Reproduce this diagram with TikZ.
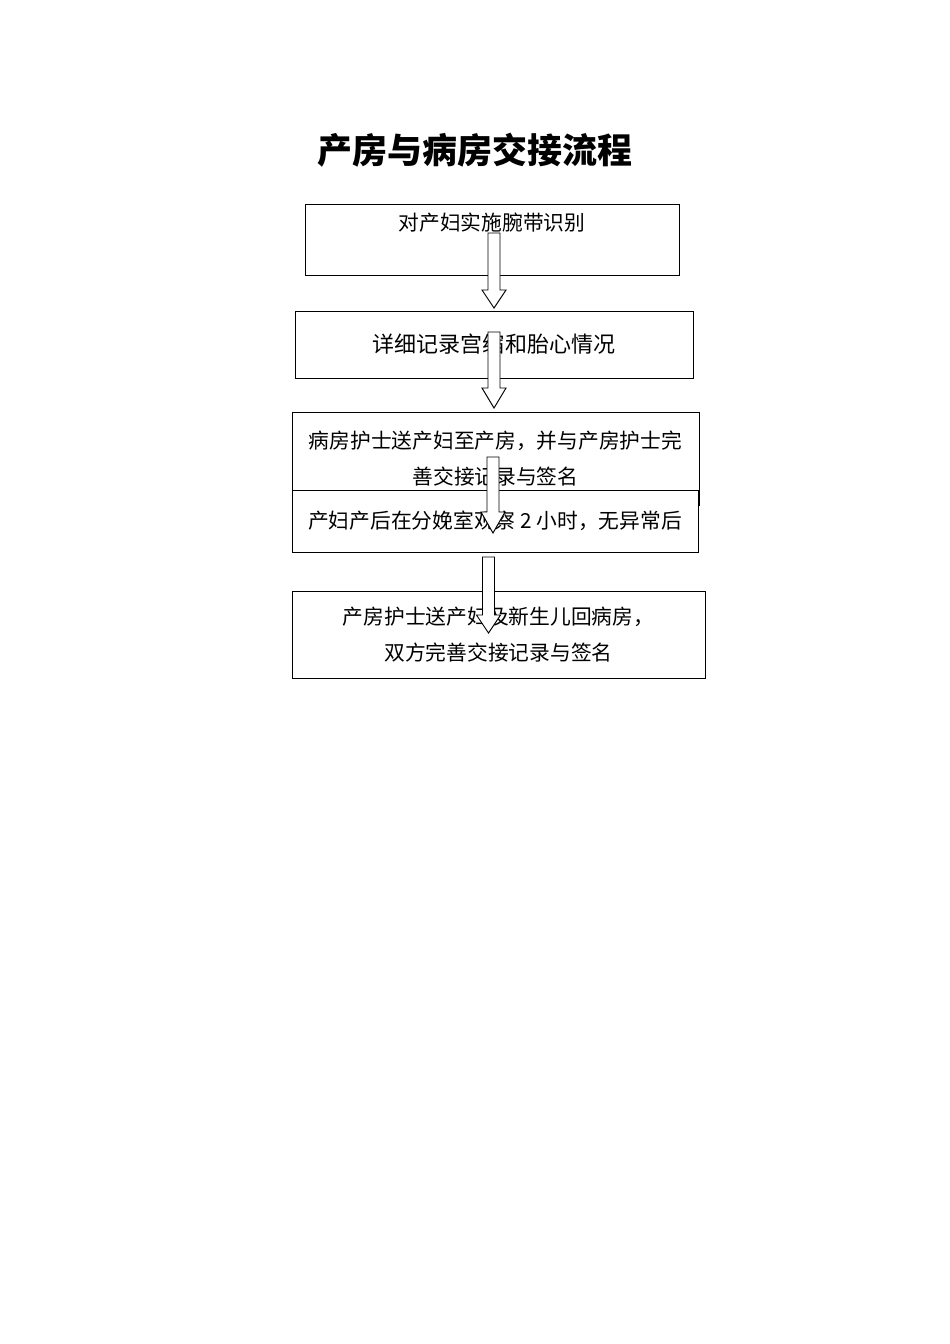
\documentclass[tikz,border=0pt]{standalone}
\usepackage{fontspec}
\setmainfont{Noto Sans CJK SC}
\usetikzlibrary{positioning, calc}
\newcommand{\px}{0.6266pt}
\newcommand{\hollowarrow}[3]{%
  \draw[hollow] ($(#1)+(-6,0)$) -- ($(#2)+(-6,0)$) -- ($(#2)+(-12,0)$) -- (#3)
    -- ($(#2)+(12,0)$) -- ($(#2)+(6,0)$) -- ($(#1)+(6,0)$) -- cycle;}

\begin{document}
\begin{tikzpicture}[x=\px, y=-\px]
		\tikzstyle{box} = [draw=black, fill=white, line width=0.6pt, inner sep=0, align=center,
		font=\fontsize{13}{22.4}\selectfont]
		\tikzstyle{hollow} = [draw=black, fill=white, line width=0.6pt, line join=miter]
		\useasboundingbox (0,0) rectangle (950,1344);
		\node [font=\fontsize{21.9}{26}\selectfont\bfseries] (title) at (475,150) {产房与病房交接流程};
		\node [box, minimum width=374*\px, minimum height=71*\px] (b1) at (492,239.5) {对产妇实施腕带识别\\~};
		\node [box, minimum width=398*\px, minimum height=67*\px, font=\fontsize{13.8}{22.4}\selectfont] (b2) at (494,344.5) {\raisebox{1.3pt}{详细记录宫缩和胎心情况}};
		\coordinate (a1s) at (494,233);
		\coordinate (a1h) at (494,290);
		\coordinate (a1t) at (494,308);
		\hollowarrow{a1s}{a1h}{a1t}
		\coordinate (a2s) at (494,332);
		\coordinate (a2h) at (494,388);
		\coordinate (a2t) at (494,408);
		\hollowarrow{a2s}{a2h}{a2t}
		\node [box, minimum width=407*\px, minimum height=93*\px] (b3) at (495.5,458.5) {病房护士送产妇至产房，并与产房护士完\\善交接记录与签名};
		\node [box, minimum width=406*\px, minimum height=62*\px] (b4) at (495,521) {产妇产后在分娩室观察 2 小时，无异常后};
		\coordinate (a3s) at (493,457);
		\coordinate (a3h) at (493,512);
		\coordinate (a3t) at (493,533);
		\hollowarrow{a3s}{a3h}{a3t}
		\node [box, minimum width=413*\px, minimum height=87*\px] (b5) at (498.5,634.5) {产房护士送产妇及新生儿回病房，\\双方完善交接记录与签名};
		\coordinate (a4s) at (488.5,557);
		\coordinate (a4h) at (488.5,615);
		\coordinate (a4t) at (488.5,633);
		\hollowarrow{a4s}{a4h}{a4t}
\end{tikzpicture}
\end{document}
